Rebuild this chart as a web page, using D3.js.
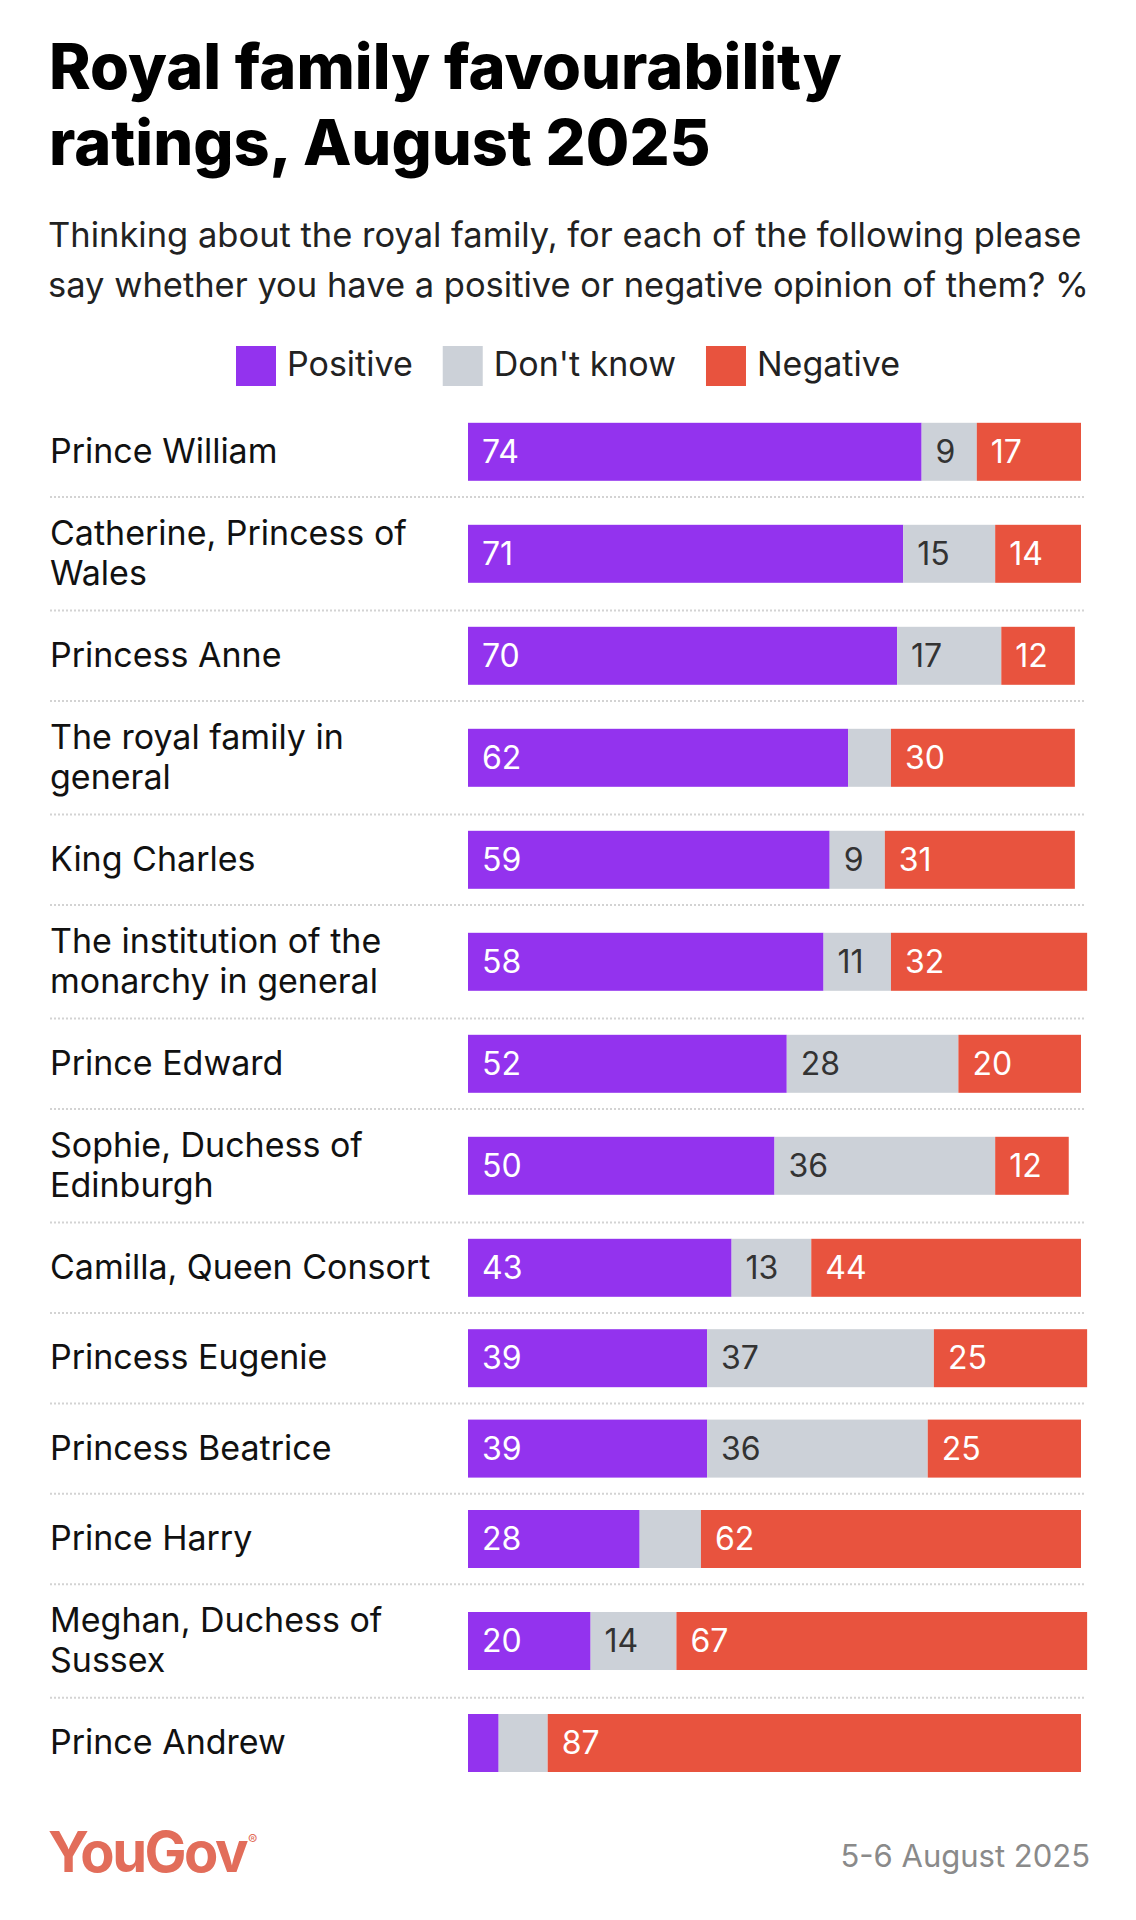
<!DOCTYPE html>
<html>
<head>
<meta charset="utf-8">
<script src="https://cdn.jsdelivr.net/npm/d3@7"></script>
<style>
  body { margin: 0; background: #fff; }
  svg { display: block; font-family: Inter, Roboto, "Noto Sans", sans-serif; }
</style>
</head>
<body>
<svg id="chart" width="1136" height="1920"></svg>
<script>
// data
const people = [
  "Prince William", "Catherine, Princess of Wales", "Princess Anne",
  "The royal family in general", "King Charles",
  "The institution of the monarchy in general", "Prince Edward",
  "Sophie, Duchess of Edinburgh", "Camilla, Queen Consort", "Princess Eugenie",
  "Princess Beatrice", "Prince Harry", "Meghan, Duchess of Sussex", "Prince Andrew"
];
const positive = [74, 71, 70, 62, 59, 58, 52, 50, 43, 39, 39, 28, 20, 5];
const dontKnow = [9, 15, 17, 7, 9, 11, 28, 36, 13, 37, 36, 10, 14, 8];
const negative = [17, 14, 12, 30, 31, 32, 20, 12, 44, 25, 25, 62, 67, 87];

const seriesKeys = ["positive", "dontKnow", "negative"];
const seriesNames = ["Positive", "Don't know", "Negative"];
const seriesColors = ["#9333ee", "#ccd1d8", "#e8533e"];
const labelColors = ["#fff", "#333", "#fff"];

const rows = people.map((name, i) => ({
  name, positive: positive[i], dontKnow: dontKnow[i], negative: negative[i]
}));

const svg = d3.select("#chart");

// titel + untertitel
const title = svg.append("text")
  .attr("x", 49).attr("y", 89)
  .attr("font-size", 63).attr("font-weight", 800)
  .attr("letter-spacing", 0)
  .attr("fill", "#000");
["Royal family favourability", "ratings, August 2025"].forEach((t, i) => {
  title.append("tspan").attr("x", 49).attr("dy", i ? 76 : 0).text(t);
});

const sub = svg.append("text")
  .attr("x", 48).attr("y", 247)
  .attr("font-size", 34.5).attr("fill", "#222");
["Thinking about the royal family, for each of the following please",
 "say whether you have a positive or negative opinion of them? %"].forEach((t, i) => {
  sub.append("tspan").attr("x", 48).attr("dy", i ? 50 : 0).text(t);
});

// legende, zentriert
const legend = svg.append("g");
let lx = 0;
seriesNames.forEach((n, i) => {
  const g = legend.append("g").attr("transform", `translate(${lx},0)`);
  g.append("rect").attr("width", 40).attr("height", 40).attr("fill", seriesColors[i]);
  const t = g.append("text").attr("x", 51).attr("y", 30)
    .attr("font-size", 34).attr("fill", "#222").text(n);
  lx += 51 + t.node().getComputedTextLength() + 30;
});
lx -= 30;
legend.attr("transform", `translate(${(1136 - lx) / 2},346)`);

// layout
const labelX = 50;
const labelSize = 34;
const lineH = 40;
const maxLabelW = 400;
const barH = 58;

const x = d3.scaleLinear().domain([0, 100]).range([468, 1081]);

// zeilenumbruch messen
const measure = svg.append("text").attr("font-size", labelSize);
const wrap = (str) => {
  const words = str.split(" ");
  const lines = [];
  let cur = "";
  words.forEach(w => {
    const test = cur ? cur + " " + w : w;
    measure.text(test);
    if (measure.node().getComputedTextLength() > maxLabelW && cur) {
      lines.push(cur);
      cur = w;
    } else {
      cur = test;
    }
  });
  lines.push(cur);
  return lines;
};

let y0 = 406.6;
rows.forEach(r => {
  r.lines = wrap(r.name);
  r.h = r.lines.length > 1 ? 113.6 : 90.4;
  r.y = y0;
  y0 += r.h;
});
measure.remove();

const stacked = d3.stack().keys(seriesKeys)(rows);

const rowG = svg.append("g").selectAll("g").data(rows).join("g")
  .attr("transform", d => `translate(0,${d.y})`);

// trennlinien
rowG.filter((d, i) => i > 0).append("line")
  .attr("x1", labelX).attr("x2", 1086)
  .attr("y1", 0).attr("y2", 0)
  .attr("stroke", "#d3d3d3").attr("stroke-width", 2)
  .attr("stroke-dasharray", "2,2");

// namen
rowG.append("text")
  .attr("font-size", labelSize).attr("fill", "#111")
  .each(function(d) {
    const n = d.lines.length;
    const mid = d.h / 2;
    d3.select(this).selectAll("tspan").data(d.lines).join("tspan")
      .attr("x", labelX)
      .attr("y", (l, j) => mid + (j - (n - 1) / 2) * lineH + 11)
      .text(l => l);
  });

// balken
stacked.forEach((s, si) => {
  s.forEach((seg, i) => {
    const r = rows[i];
    const by = r.y + (r.h - barH) / 2;
    const x0 = x(seg[0]), x1 = x(seg[1]);
    svg.append("rect")
      .attr("x", x0).attr("y", by)
      .attr("width", x1 - x0).attr("height", barH)
      .attr("fill", seriesColors[si]);
    const t = svg.append("text")
      .attr("x", x0 + 14).attr("y", by + barH / 2 + 11)
      .attr("font-size", 32).attr("fill", labelColors[si])
      .text(seg[1] - seg[0]);
    if (t.node().getComputedTextLength() + 34 > x1 - x0) t.remove();
  });
});

// fusszeile
const logo = svg.append("text")
  .attr("x", 48).attr("y", 1872)
  .attr("font-size", 56).attr("font-weight", 700)
  .attr("letter-spacing", -2.5)
  .attr("fill", "#e26d5a").text("YouGov");
svg.append("text")
  .attr("x", 48 + logo.node().getComputedTextLength() + 2).attr("y", 1845)
  .attr("font-size", 14).attr("fill", "#e26d5a").text("®");

svg.append("text")
  .attr("x", 1090).attr("y", 1867)
  .attr("text-anchor", "end")
  .attr("font-size", 31).attr("fill", "#8a8a8a")
  .text("5-6 August 2025");
</script>
</body>
</html>
